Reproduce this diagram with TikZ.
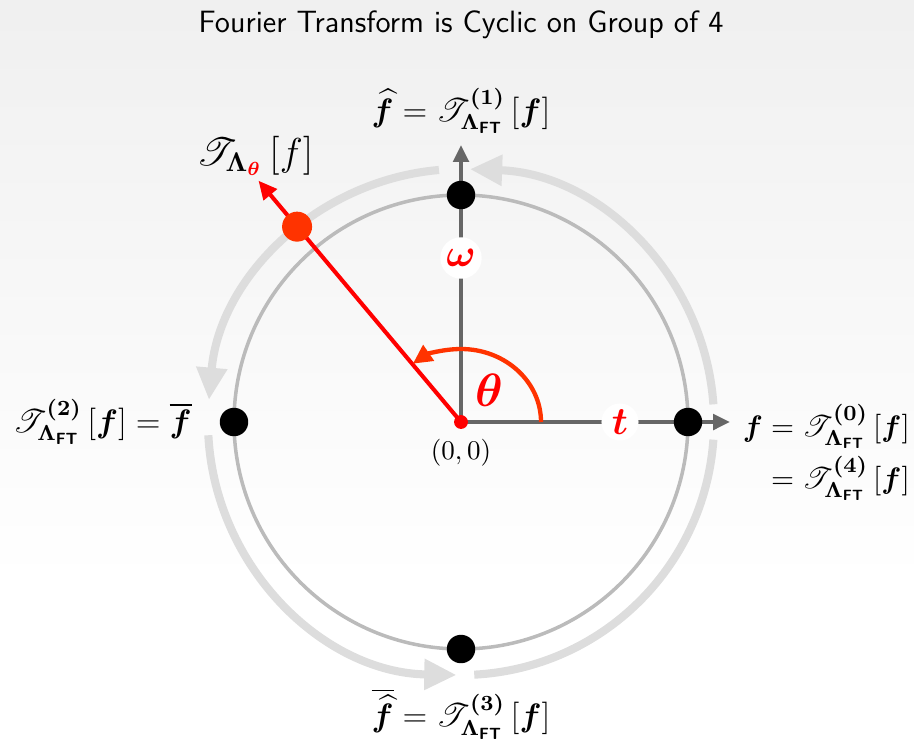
\documentclass[tikz,border=0pt]{standalone}
\usepackage{amsmath}
\usepackage{bm}
\usepackage{mathrsfs}
\usepackage{tikz}
\usetikzlibrary{arrows.meta, positioning}
\definecolor{cycgray}{HTML}{DDDDDD}
\definecolor{ringgray}{HTML}{BBBBBB}
\definecolor{axisgray}{HTML}{666666}
\definecolor{thetared}{HTML}{FF3300}
\newcommand{\FTop}[1]{\mathscr{T}^{\bm{(#1)}}_{\bm{\Lambda}_{\textsf{\textbf{FT}}}}\left[\bm{f}\right]}

\begin{document}
\begin{tikzpicture}[
  x=0.013cm, y=0.013cm,
  cycarc/.style={line width=3pt, draw=cycgray},
  cyctip/.style={-{Triangle[length=0.42cm, width=0.38cm]}},
  axisline/.style={line width=1.5pt, draw=axisgray, -{Triangle[length=0.22cm, width=0.2cm]}},
  bigdot/.style={circle, fill=black, inner sep=0pt, minimum size=0.37cm},
  mathlabel/.style={inner sep=1pt, font=\large},
  redlabel/.style={text=red, fill=white, circle, inner sep=1pt, font=\Large}
]
\useasboundingbox (-461,-322) rectangle (453,422);
\shade[top color=black!6, bottom color=white] (-461,422) rectangle (453,-160);

\node[font=\sffamily\fontsize{11.4}{14}\selectfont] (title) at (0,397) {Fourier Transform is Cyclic on Group of 4};

% cycle arrows
\draw[cycarc, cyctip] (4:253) arc[start angle=4, end angle=88, radius=253];
\draw[cycarc, cyctip] (95:253) arc[start angle=95, end angle=175, radius=253];
\draw[cycarc, cyctip] (183:253) arc[start angle=183, end angle=269, radius=253];
\draw[cycarc] (273:253) arc[start angle=273, end angle=356, radius=253];

\draw[ringgray, line width=1.3pt] (0,0) circle[radius=227];

\coordinate (O) at (0,0);
\coordinate (tend) at (269,0);
\coordinate (wend) at (0,277);
\draw[axisline] (O) -- (tend);
\draw[axisline] (O) -- (wend);
\node[redlabel] (t) at (159,0) {$\bm{t}$};
\node[redlabel] (w) at (0,164) {$\bm{\omega}$};

% rotated transform
\coordinate (thetaend) at (130:315);
\coordinate (arcstart) at (80,0);
\draw[red, line width=1.5pt, -{Triangle[length=0.24cm, width=0.22cm]}] (O) -- (thetaend);
\draw[thetared, line width=1.6pt, -{Triangle[length=0.25cm, width=0.24cm]}]
  (arcstart) arc[start angle=0, end angle=127, x radius=80, y radius=73];
\node[text=red, font=\LARGE] (theta) at (28,32) {$\bm{\theta}$};
\node[circle, fill=thetared, inner sep=0pt, minimum size=0.39cm] (pt) at (130:255) {};
\node[circle, fill=red, inner sep=0pt, minimum size=0.18cm] (origin) at (O) {};
\node[mathlabel, font=\normalsize] (olabel) at (0,-31) {$(0,0)$};

\node[bigdot] (p0) at (0:227) {};
\node[bigdot] (p1) at (90:227) {};
\node[bigdot] (p2) at (180:227) {};
\node[bigdot] (p3) at (270:227) {};

\node[mathlabel] (l1) at (0,311) {$\widehat{\bm{f}} = \FTop{1}$};
\node[mathlabel, anchor=east] (l2) at (-266,0) {$\FTop{2} = \overline{\bm{f}}$};
\node[mathlabel] (l3) at (0,-292) {$\overline{\widehat{\bm{f}}} = \FTop{3}$};
\node[mathlabel, anchor=north east, font=\fontsize{11}{13}\selectfont] (l0) at (452,21)
  {$\begin{aligned} \bm{f} &= \FTop{0}\\[-1pt] &= \FTop{4}\end{aligned}$};
\node[mathlabel, font=\Large] (ltheta) at (-206,266)
  {$\mathscr{T}_{\bm{\Lambda}_{\color{red}\bm{\theta}}}\left[f\right]$};
\end{tikzpicture}
\end{document}
